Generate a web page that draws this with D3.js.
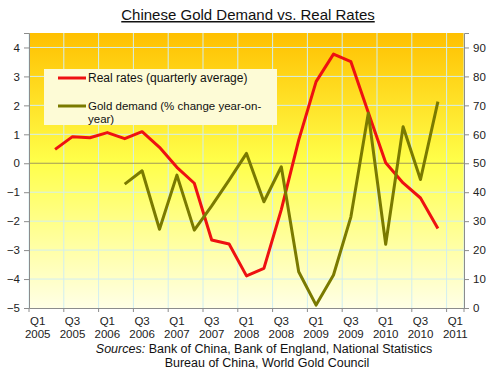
<!DOCTYPE html>
<html>
<head>
<meta charset="utf-8">
<script src="https://cdn.jsdelivr.net/npm/d3@7"></script>
<style>
  body { margin: 0; background: #fff; }
  text { font-family: "Liberation Sans", Arial, sans-serif; }
</style>
</head>
<body>
<div id="chart"></div>
<script>
// quarters Q1 2005 .. Q1 2011
var quarters = ["Q1 2005","Q2 2005","Q3 2005","Q4 2005","Q1 2006","Q2 2006","Q3 2006","Q4 2006",
  "Q1 2007","Q2 2007","Q3 2007","Q4 2007","Q1 2008","Q2 2008","Q3 2008","Q4 2008",
  "Q1 2009","Q2 2009","Q3 2009","Q4 2009","Q1 2010","Q2 2010","Q3 2010","Q4 2010","Q1 2011"]

// real rates, quarterly average (left axis)
var realRates = [null, 0.48, 0.92, 0.88, 1.06, 0.85, 1.09, 0.55,
  -0.14, -0.69, -2.65, -2.79, -3.89, -3.63, -1.6, 0.8,
  2.82, 3.77, 3.51, 1.75, 0.02, -0.68, -1.2, -2.25, null]

// gold demand, % change year-on-year (right axis)
var goldDemand = [null, null, null, null, null, 42.8, 47.4, 27.2,
  45.9, 26.9, 35.3, 44.2, 53.4, 36.7, 48.8, 12.5,
  1.0, 11.4, 31.5, 67.3, 22, 62.6, 44.4, 71.3, null]

var leftTicks = [-5, -4, -3, -2, -1, 0, 1, 2, 3, 4]
var rightTicks = [0, 10, 20, 30, 40, 50, 60, 70, 80, 90]
var legendLabels = ["Real rates (quarterly average)", ["Gold demand (% change year-on-", "year)"]]

var width = 500, height = 372
var margin = { top: 33, right: 36, bottom: 64, left: 29 }
var plotW = width - margin.left - margin.right,
    plotH = height - margin.top - margin.bottom

var svg = d3.select("#chart").append("svg")
  .attr("width", width)
  .attr("height", height)

var defs = svg.append("defs")
var grad = defs.append("linearGradient")
  .attr("id", "bg").attr("x1", 0).attr("y1", 0).attr("x2", 0).attr("y2", 1)
grad.append("stop").attr("offset", "0%").attr("stop-color", "#ffc000")
grad.append("stop").attr("offset", "47%").attr("stop-color", "#ffff4a")
grad.append("stop").attr("offset", "100%").attr("stop-color", "#ffffe6")

// title
svg.append("text")
  .attr("x", 248).attr("y", 20)
  .attr("text-anchor", "middle")
  .attr("font-size", 15)
  .attr("text-decoration", "underline")
  .attr("fill", "#111")
  .text("Chinese Gold Demand vs. Real Rates")

var g = svg.append("g")
  .attr("transform", "translate(" + margin.left + "," + margin.top + ")")

var x = d3.scaleBand().domain(quarters).range([0, plotW])
var yLeft = d3.scaleLinear().domain([-5, 4.5]).range([plotH, 0])
var yRight = d3.scaleLinear().domain([0, 95]).range([plotH, 0])

g.append("rect")
  .attr("width", plotW).attr("height", plotH)
  .attr("fill", "url(#bg)")

// grid: vertical lines every two quarters
var boundaries = quarters.filter((d, i) => i % 2 === 0).map(d => x(d)).concat([plotW])
g.selectAll(".vgrid").data(boundaries).enter().append("line")
  .attr("class", "vgrid")
  .attr("x1", d => d).attr("x2", d => d)
  .attr("y1", 0).attr("y2", plotH)
  .attr("stroke", "#d2eef0").attr("stroke-width", 1)

g.selectAll(".hgrid").data(leftTicks.filter(d => d !== 0 && d !== -5)).enter().append("line")
  .attr("class", "hgrid")
  .attr("x1", 0).attr("x2", plotW)
  .attr("y1", d => yLeft(d)).attr("y2", d => yLeft(d))
  .attr("stroke", "#d2eef0").attr("stroke-width", 1)

// zero line
g.append("line")
  .attr("x1", 0).attr("x2", plotW)
  .attr("y1", yLeft(0)).attr("y2", yLeft(0))
  .attr("stroke", "#a09a58").attr("stroke-width", 1.2)

// axes
var yAxis = d3.axisLeft(yLeft).tickValues(leftTicks).tickSize(5).tickPadding(4)
g.append("g").attr("class", "axis y-axis").call(yAxis)

var yAxisR = d3.axisRight(yRight).tickValues(rightTicks).tickSize(5).tickPadding(4)
g.append("g").attr("class", "axis y-axis-r")
  .attr("transform", "translate(" + plotW + ",0)")
  .call(yAxisR)

var xAxis = d3.axisBottom(x)
  .tickValues(quarters.filter((d, i) => i % 2 === 0))
  .tickSize(0).tickPadding(9)
var xg = g.append("g").attr("class", "axis x-axis")
  .attr("transform", "translate(0," + plotH + ")")
  .call(xAxis)

xg.selectAll(".tick text").each(function(d) {
  var parts = d.split(" ")
  var t = d3.select(this).text(null)
  t.append("tspan").attr("x", 0).attr("dy", "0.71em").text(parts[0])
  t.append("tspan").attr("x", 0).attr("dy", "1.1em").text(parts[1])
})

xg.selectAll(".btick").data(boundaries).enter().append("line")
  .attr("class", "btick")
  .attr("x1", d => d).attr("x2", d => d)
  .attr("y1", 0).attr("y2", 4)
  .attr("stroke", "#8c8c8c")

svg.selectAll(".axis path").attr("stroke", "#8c8c8c")
svg.selectAll(".axis .tick line").attr("stroke", "#8c8c8c")
svg.selectAll(".axis text")
  .attr("font-family", "'Liberation Sans', Arial, sans-serif")
  .attr("font-size", 11.5)
  .attr("fill", "#222")

// lines
var cx = d => x(d) + x.bandwidth() / 2

var rateLine = d3.line()
  .defined(d => d[1] !== null)
  .x(d => cx(d[0]))
  .y(d => yLeft(d[1]))

var goldLine = d3.line()
  .defined(d => d[1] !== null)
  .x(d => cx(d[0]))
  .y(d => yRight(d[1]))

g.append("path")
  .datum(quarters.map((q, i) => [q, realRates[i]]))
  .attr("d", rateLine)
  .attr("fill", "none")
  .attr("stroke", "#ee1111")
  .attr("stroke-width", 3)
  .attr("stroke-linejoin", "round")

g.append("path")
  .datum(quarters.map((q, i) => [q, goldDemand[i]]))
  .attr("d", goldLine)
  .attr("fill", "none")
  .attr("stroke", "#7a7a00")
  .attr("stroke-width", 3)
  .attr("stroke-linejoin", "round")

// legend
var legend = svg.append("g")
legend.append("rect")
  .attr("x", 44).attr("y", 69).attr("width", 233).attr("height", 56)
  .attr("fill", "#fdfbd6")

legend.append("line")
  .attr("x1", 58).attr("x2", 86).attr("y1", 78).attr("y2", 78)
  .attr("stroke", "#ee1111").attr("stroke-width", 3)
legend.append("text")
  .attr("x", 88).attr("y", 82)
  .attr("font-size", 12).attr("fill", "#111")
  .text(legendLabels[0])

legend.append("line")
  .attr("x1", 58).attr("x2", 86).attr("y1", 106).attr("y2", 106)
  .attr("stroke", "#7a7a00").attr("stroke-width", 3)
legend.append("text")
  .attr("x", 88).attr("y", 110)
  .attr("font-size", 11.5).attr("fill", "#111")
  .text(legendLabels[1][0])
legend.append("text")
  .attr("x", 88).attr("y", 123)
  .attr("font-size", 11.5).attr("fill", "#111")
  .text(legendLabels[1][1])

// sources
var src1 = svg.append("text")
  .attr("x", 264).attr("y", 353)
  .attr("text-anchor", "middle")
  .attr("font-size", 12.5).attr("fill", "#111")
src1.append("tspan").attr("font-style", "italic").text("Sources:")
src1.append("tspan").text(" Bank of China, Bank of England, National Statistics")

svg.append("text")
  .attr("x", 267).attr("y", 367)
  .attr("text-anchor", "middle")
  .attr("font-size", 12.5).attr("fill", "#111")
  .text("Bureau of China, World Gold Council")
</script>
</body>
</html>
